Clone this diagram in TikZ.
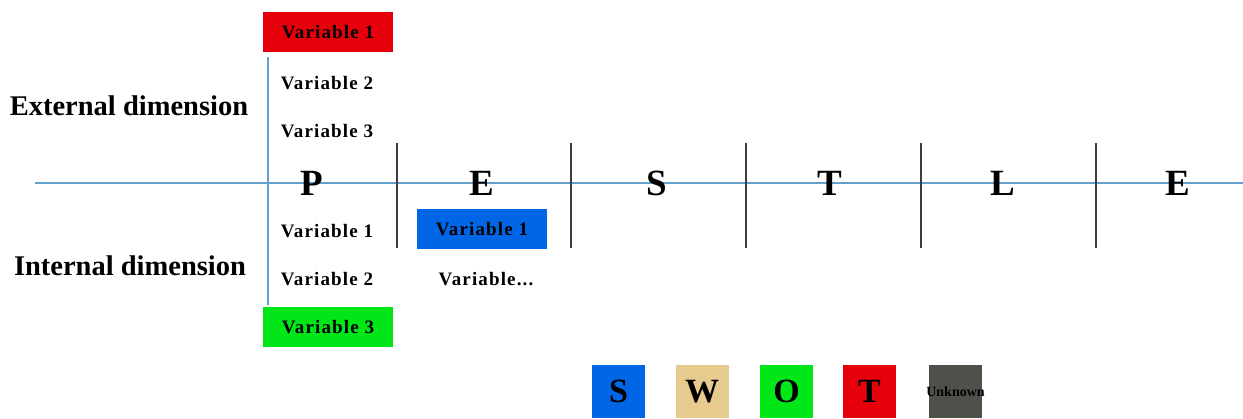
\documentclass[tikz,border=0pt]{standalone}
\usepackage{fontspec}
\setmainfont{Liberation Serif}
\newfontfamily\varfont[LetterSpace=6]{Liberation Serif}
\definecolor{axisblue}{RGB}{100,160,205}
\definecolor{sepgrey}{RGB}{60,60,60}
\definecolor{sred}{RGB}{230,0,12}
\definecolor{sgreen}{RGB}{0,230,22}
\definecolor{sblue}{RGB}{0,102,230}
\definecolor{stan}{RGB}{230,202,142}
\definecolor{sgrey}{RGB}{80,80,74}
\begin{document}
\begin{tikzpicture}[x=1pt,y=-1pt,
  varlabel/.style={font=\varfont\fontsize{19}{22}\selectfont\bfseries, inner sep=0pt, text=black},
  varbox/.style={varlabel, minimum width=130pt, minimum height=40pt},
  dimlabel/.style={font=\fontsize{28.5}{31}\selectfont\bfseries, inner sep=0pt},
  biglabel/.style={font=\fontsize{37}{40}\selectfont\bfseries, inner sep=0pt},
  legbox/.style={minimum width=53pt, minimum height=53pt, inner sep=0pt, font=\fontsize{34}{36}\selectfont\bfseries, text=black},
  axis/.style={draw=axisblue, line width=1.3pt},
  sep/.style={draw=sepgrey, line width=1.3pt}]
\useasboundingbox (0,0) rectangle (1243,418);
% axes
\draw[axis] (35,183) -- (1243,183);
\draw[axis] (268,57) -- (268,305);
% separators
\foreach \x in {397,571,746,921,1096} \draw[sep] (\x,143) -- (\x,248);
% dimension labels
\node[dimlabel] (ext) at (129,106) {External dimension};
\node[dimlabel] (int) at (130,266) {Internal dimension};
% PESTLE letters
\node[biglabel] (P) at (312,183) {P};
\node[biglabel] (E1) at (482,183) {E};
\node[biglabel] (S) at (657,183) {S};
\node[biglabel] (T) at (830,183) {T};
\node[biglabel] (L) at (1003,183) {L};
\node[biglabel] (E2) at (1178,183) {E};
% external variables
\node[varbox, fill=sred] (ev1) at (328,32) {Variable 1};
\node[varlabel] (ev2) at (327,83) {Variable 2};
\node[varlabel] (ev3) at (327,131) {Variable 3};
% internal variables
\node[varlabel] (iv1) at (327,231) {Variable 1};
\node[varlabel] (iv2) at (327,279) {Variable 2};
\node[varbox, fill=sgreen] (iv3) at (328,327) {Variable 3};
\node[varbox, fill=sblue] (ei1) at (482,229) {Variable 1};
\node[varlabel] (eiv) at (486,279) {Variable...};
% legend
\node[legbox, fill=sblue] (lS) at (618.5,391.5) {S};
\node[legbox, fill=stan] (lW) at (702,391.5) {W};
\node[legbox, fill=sgreen] (lO) at (786.5,391.5) {O};
\node[legbox, fill=sred] (lT) at (869.5,391.5) {T};
\node[legbox, fill=sgrey, font=\fontsize{14}{16}\selectfont\bfseries] (lU) at (955.5,391.5) {\makebox[53pt][c]{Unknown}};
\end{tikzpicture}
\end{document}
